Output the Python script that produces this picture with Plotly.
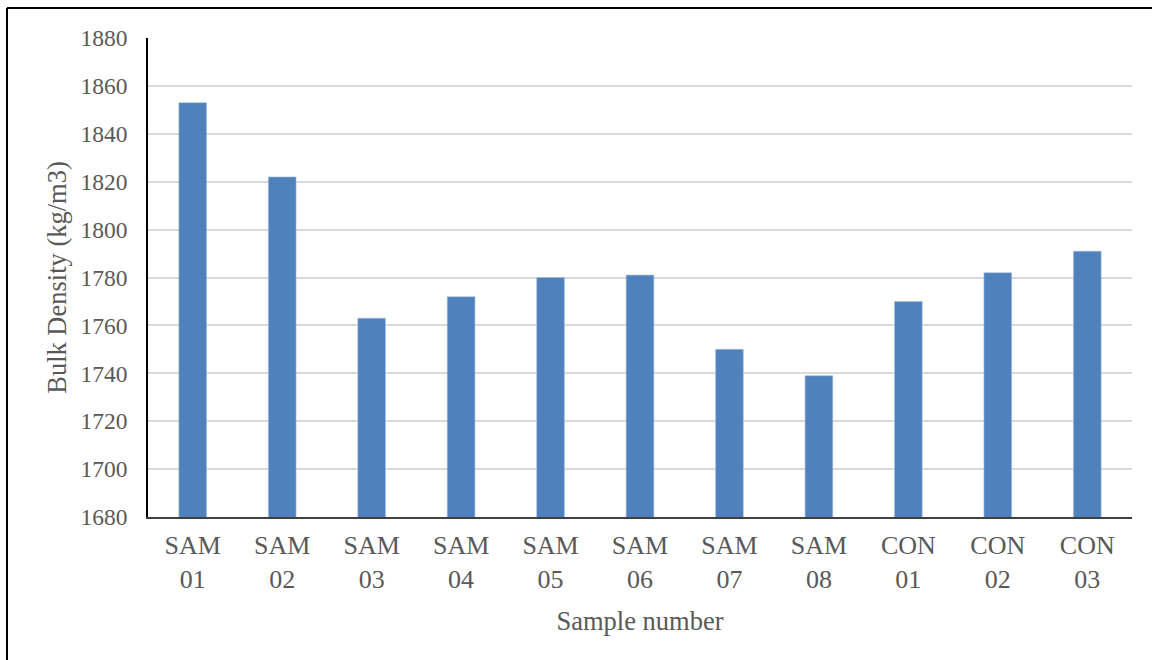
import plotly.graph_objects as go

categories = ["SAM<br>01", "SAM<br>02", "SAM<br>03", "SAM<br>04", "SAM<br>05", "SAM<br>06",
              "SAM<br>07", "SAM<br>08", "CON<br>01", "CON<br>02", "CON<br>03"]
bulk_density = [1853, 1822, 1763, 1772, 1780, 1781, 1750, 1739, 1770, 1782, 1791]
y_ticks = [1680, 1700, 1720, 1740, 1760, 1780, 1800, 1820, 1840, 1860, 1880]

W, H = 1152, 660
L, R, T, B = 148, 20, 38, 143
pw, ph = W - L - R, H - T - B

def px_x(p):
    return (p - L) / pw

def px_y(p):
    return (H - B - p) / ph

FONT = "Liberation Serif"
GREY = "#595959"

fig = go.Figure(go.Bar(
    x=categories, y=bulk_density,
    marker=dict(color="#4F81BD", line=dict(color="#A9C0E0", width=0.6)),
    width=0.31,
))

fig.update_layout(
    width=W, height=H,
    margin=dict(l=L, r=R, t=T, b=B, pad=0),
    paper_bgcolor="white", plot_bgcolor="white",
    showlegend=False,
    font=dict(family=FONT, color=GREY),
    xaxis=dict(
        showline=True, linecolor="#404040", linewidth=1.5,
        showgrid=False, ticks="", tickfont=dict(size=26, family=FONT, color=GREY),
        ticklabelstandoff=4,
        title=dict(text="Sample number", font=dict(size=26.5, family=FONT, color=GREY), standoff=19),
    ),
    yaxis=dict(
        range=[1680, 1880], tickvals=y_ticks, ticktext=[str(v) for v in y_ticks],
        showline=True, linecolor="black", linewidth=1.5,
        showgrid=True, gridcolor="#D9D9D9", gridwidth=1.5, zeroline=False,
        ticks="", tickfont=dict(size=23.5, family=FONT, color=GREY), ticklabelstandoff=14,
        title=dict(text="Bulk Density (kg/m3)", font=dict(size=26.5, family=FONT, color=GREY), standoff=6),
    ),
    shapes=[
        dict(type="line", xref="paper", yref="paper", x0=px_x(7), x1=px_x(W + 5),
             y0=px_y(8), y1=px_y(8), line=dict(color="black", width=2)),
        dict(type="line", xref="paper", yref="paper", x0=px_x(7), x1=px_x(7),
             y0=px_y(8), y1=px_y(H + 5), line=dict(color="black", width=2)),
    ],
)

fig.write_html("out.html", config={"displayModeBar": False},
               post_script="document.body.style.margin='0px';document.body.style.overflow='hidden';")
